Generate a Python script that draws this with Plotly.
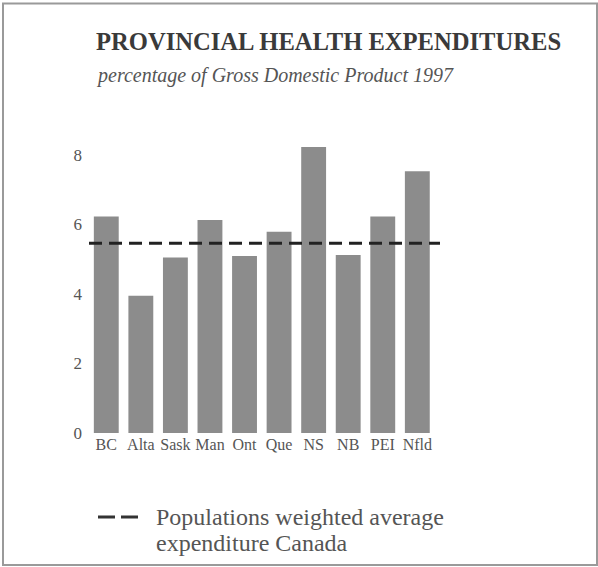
import plotly.graph_objects as go

provinces = ["BC", "Alta", "Sask", "Man", "Ont", "Que", "NS", "NB", "PEI", "Nfld"]
health_pct_gdp = [6.23, 3.95, 5.05, 6.13, 5.09, 5.79, 8.23, 5.12, 6.23, 7.53]
canada_avg = 5.46
y_ticks = [0, 2, 4, 6, 8]

title = "PROVINCIAL HEALTH EXPENDITURES"
subtitle = "percentage of Gross Domestic Product 1997"
legend_lines = ["Populations weighted average", "expenditure Canada"]

W, H = 598, 567
L, R, T, B = 89, 158, 138, 134
pw, ph = W - L - R, H - T - B

def px(x):
    return (x - L) / pw

def py(y):
    return (H - B - y) / ph

serif = "Liberation Serif"

fig = go.Figure()
fig.add_trace(go.Bar(
    x=provinces, y=health_pct_gdp,
    marker=dict(color="#8c8c8c", line=dict(width=0)),
    showlegend=False, hoverinfo="x+y",
))

annotations = [
    dict(text="<b>" + title + "</b>", xref="paper", yref="paper", x=px(94), y=py(41),
         xanchor="left", yanchor="middle", showarrow=False,
         font=dict(family=serif, size=24.6, color="#3a3a3a")),
    dict(text="<i>" + subtitle + "</i>", xref="paper", yref="paper", x=px(94), y=py(75),
         xanchor="left", yanchor="middle", showarrow=False,
         font=dict(family=serif, size=20, color="#555")),
]
for line, ypix in zip(legend_lines, [517, 543]):
    annotations.append(dict(text=line, xref="paper", yref="paper", x=px(154), y=py(ypix),
                            xanchor="left", yanchor="middle", align="left", showarrow=False,
                            font=dict(family=serif, size=24, color="#555")))

fig.update_layout(
    width=W, height=H,
    margin=dict(l=L, r=R, t=T, b=B),
    paper_bgcolor="white", plot_bgcolor="white",
    bargap=0.28,
    xaxis=dict(range=[-0.5, -0.5 + pw / 34.56], showgrid=False, zeroline=False,
               showline=False, ticks="", tickfont=dict(family=serif, size=16, color="#555"),
               fixedrange=True),
    yaxis=dict(range=[0, ph / 34.75], tickvals=y_ticks, showgrid=False, zeroline=False,
               showline=False, ticks="", ticklabelstandoff=6,
               tickfont=dict(family=serif, size=17, color="#555"), fixedrange=True),
    shapes=[
        dict(type="line", xref="paper", yref="y", x0=0, x1=1, y0=canada_avg, y1=canada_avg,
             line=dict(color="#222", width=3, dash="13px,7px")),
        dict(type="line", xref="paper", yref="paper", x0=px(98), x1=px(138), y0=py(517), y1=py(517),
             line=dict(color="#333", width=3, dash="17px,6px")),
        dict(type="rect", xref="paper", yref="paper", x0=px(3), x1=px(597), y0=py(3.5), y1=py(565),
             line=dict(color="#9a9a9a", width=2), fillcolor="rgba(0,0,0,0)", layer="below"),
    ],
    annotations=annotations,
)

fig.write_html("out.html")
